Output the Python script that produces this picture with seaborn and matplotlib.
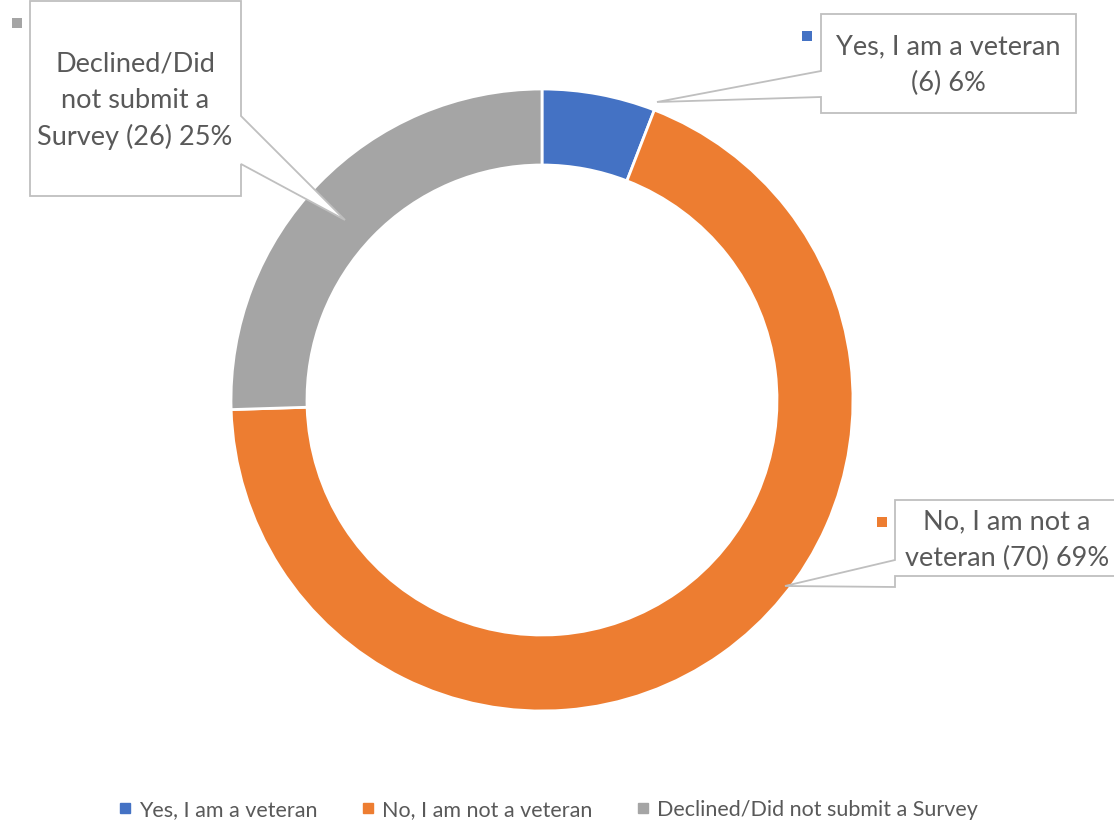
import matplotlib
matplotlib.use("Agg")
import matplotlib.pyplot as plt
import seaborn as sns
from matplotlib.patches import Polygon, Rectangle
from matplotlib.lines import Line2D

# data
categories = ["Yes, I am a veteran", "No, I am not a veteran", "Declined/Did not submit a Survey"]
counts = [6, 70, 26]
pct_labels = ["6%", "69%", "25%"]
box_texts = ["Yes, I am a veteran\n(6) 6%",
             "No, I am not a\nveteran (70) 69%",
             "Declined/Did\nnot submit a\nSurvey (26) 25%"]

sns.set_theme(style="white")
plt.rcParams['font.family'] = ['Lato', 'DejaVu Sans']
colors = ["#4472C4", "#ED7D31", "#A5A5A5"]
text_col = "#595959"
edge_col = "#BFBFBF"

W, H = 1114, 826
fig = plt.figure(figsize=(W / 100, H / 100), dpi=100)
ax = fig.add_axes([0, 0, 1, 1])

def px(x, y):
    return (x, H - y)

ax.pie(counts, colors=colors, startangle=90, counterclock=False,
       radius=311, center=px(542, 400),
       wedgeprops=dict(width=76, edgecolor="white", linewidth=2))
ax.set_xlim(0, W)
ax.set_ylim(0, H)
ax.set_aspect("equal")
ax.axis("off")

# callouts: box corners, pointer base points, tip, marker pos, text centre
callouts = [
    dict(box=(821, 14, 1076, 113), base=(71, 97), side="left", tip=(657, 102),
         mark=(807, 36), text=(948, 65)),
    dict(box=(895, 500, 1130, 576), base=(560, 587), side="left", tip=(785, 586),
         mark=(882, 522), text=(1007, 540)),
    dict(box=(30, 1, 241, 196), base=(116, 164), side="right", tip=(345, 220),
         mark=(17, 23), text=(135, 101)),
]
for c, col, txt in zip(callouts, colors, box_texts):
    x0, y0, x1, y1 = c["box"]
    b0, b1 = c["base"]
    if c["side"] == "left":
        pts = [(x0, y0), (x1, y0), (x1, y1), (x0, y1), (x0, b1), c["tip"], (x0, b0)]
    else:
        pts = [(x0, y0), (x1, y0), (x1, b0), c["tip"], (x1, b1), (x1, y1), (x0, y1)]
    ax.add_patch(Polygon([px(*p) for p in pts], closed=True, facecolor="white",
                         edgecolor=edge_col, linewidth=1.3, zorder=5))
    mx, my = c["mark"]
    ax.add_patch(Rectangle(px(mx - 5, my + 5), 10, 10, facecolor=col,
                           edgecolor="none", zorder=6))
    ax.text(*px(*c["text"]), txt, ha="center", va="center", fontsize=19.5,
            color=text_col, linespacing=1.55, zorder=7)

handles = [Line2D([], [], marker="s", linestyle="none", markersize=7,
                  markerfacecolor=col, markeredgecolor=col) for col in colors]
leg = fig.legend(handles, categories, loc="center", bbox_to_anchor=(0.492, 1 - 810 / H),
                 ncol=3, frameon=False, fontsize=15.5, handletextpad=0.3,
                 columnspacing=2.0, handlelength=0.7)
for t in leg.get_texts():
    t.set_color(text_col)

fig.savefig("out.png", dpi=100)
